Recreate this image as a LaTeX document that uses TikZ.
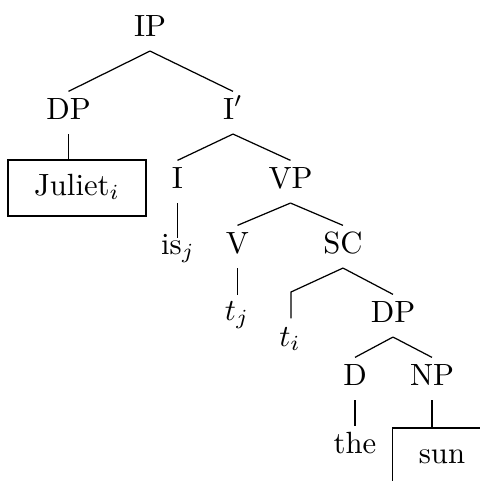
\documentclass[tikz,border=0pt]{standalone}
\begin{document}
\begin{tikzpicture}[x=0.3257pt,y=-0.3257pt,
  lab/.style={anchor=base,inner sep=0pt,text height=8.8pt,text depth=4.7pt},
  leaf/.style={anchor=base,inner sep=0pt,text depth=0pt},
  boxed/.style={anchor=base,draw,inner ysep=0pt,inner xsep=8.5pt,text height=11.4pt,text depth=6.84pt}]
\useasboundingbox (0,0) rectangle (480,481);
\clip (0,0) rectangle (480,481);
% labels
\node[lab] (IP) at (150,36) {IP};
\node[lab] (DP) at (68.5,119) {DP};
\node[lab] (Ib) at (233,119) {I$'$};
\node[boxed] (Jul) at (77,195) {Juliet$_i$};
\node[lab] (I) at (177.5,188) {I};
\node[lab] (VP) at (290.5,188) {VP};
\node[leaf,text height=4.9pt] (is) at (178,254) {is$_j$};
\node[lab] (V) at (237.5,253) {V};
\node[lab] (SC) at (343,253) {SC};
\node[leaf,text height=7.8pt] (tj) at (237,320) {$t_j$};
\coordinate (e) at (291,292);
\node[leaf,text height=8.8pt] (ti) at (290,346) {$t_i$};
\node[lab] (DP2) at (393,322) {DP};
\node[lab] (D) at (355,385) {D};
\node[lab] (NP) at (432,385) {NP};
\node[leaf,text height=8.5pt] (the) at (355,453) {the};
\node[boxed] (sun) at (442,463) {sun};
% edges
\draw (IP.south) -- (DP.north);
\draw (IP.south) -- (Ib.north);
\draw (DP.south) -- (DP.south |- Jul.north);
\draw (Ib.south) -- (I.north);
\draw (Ib.south) -- (VP.north);
\draw (I.south) -- (I.south |- is.north);
\draw (VP.south) -- (V.north);
\draw (VP.south) -- (SC.north);
\draw (V.south) -- (V.south |- tj.north);
\draw (SC.south) -- (e) -- (e |- ti.north);
\draw (SC.south) -- (DP2.north);
\draw (DP2.south) -- (D.north);
\draw (DP2.south) -- (NP.north);
\draw (D.south) -- (D.south |- the.north);
\draw (NP.south) -- (NP.south |- sun.north);
\end{tikzpicture}
\end{document}
